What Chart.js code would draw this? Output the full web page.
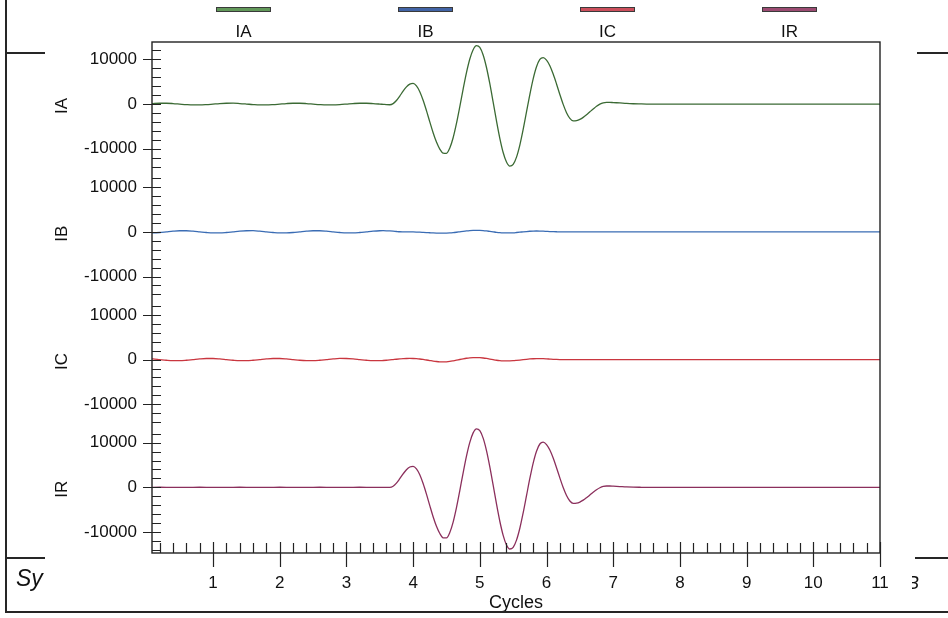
<!DOCTYPE html>
<html>
<head>
<meta charset="utf-8">
<title>IA IB IC IR</title>
<script src="https://cdn.jsdelivr.net/npm/chart.js@4.4.1/dist/chart.umd.min.js"></script>
<style>
  html, body { margin: 0; padding: 0; background: #fff; }
  body { font-family: "Liberation Sans", Arial, sans-serif; color: #111; }
  #page { position: relative; width: 948px; height: 618px; overflow: hidden; }
  #chartBox { position: absolute; left: 0; top: 0; width: 948px; height: 618px; }
  .rule { position: absolute; background: #262626; }
  .legend-item { position: absolute; top: 7px; width: 120px; margin-left: -60px; text-align: center; }
  .legend-item .swatch { display: block; margin: 0 auto; width: 53px; height: 3px; border: 1px solid #3a3a3a; }
  .legend-item .name { display: block; margin-top: 10px; font-size: 17px; line-height: 20px; }
  .clip { position: absolute; overflow: hidden; white-space: nowrap; font-style: italic; }
</style>
</head>
<body>
<div id="page">
  <div id="chartBox"><canvas id="waveChart"></canvas></div>
  <div id="legend"></div>

  <!-- bits of the surrounding report page -->
  <div class="rule" style="left:5px;top:0;width:2px;height:612px"></div>
  <div class="rule" style="left:5px;top:611px;width:943px;height:2px"></div>
  <div class="rule" style="left:7px;top:52px;width:38px;height:1.5px"></div>
  <div class="rule" style="left:917px;top:52px;width:31px;height:1.5px"></div>
  <div class="rule" style="left:7px;top:557px;width:38px;height:1.5px"></div>
  <div class="rule" style="left:915px;top:557px;width:33px;height:1.5px"></div>
  <div class="clip" style="left:16px;top:563px;width:29px;height:30px;font-size:23px;line-height:30px">Sy</div>
  <div class="clip" style="left:912px;top:572px;width:9px;height:22px;font-size:18px;line-height:22px"><span style="margin-left:-5px">B</span></div>
</div>

<script>
// x positions in cycles
const cycles = [
  0.08, 0.1, 0.2, 0.3, 0.4, 0.5, 0.6, 0.7, 0.8, 0.9,
  1.0, 1.1, 1.2, 1.3, 1.4, 1.5, 1.6, 1.7, 1.8, 1.9,
  2.0, 2.1, 2.2, 2.3, 2.4, 2.5, 2.6, 2.7, 2.8, 2.9,
  3.0, 3.1, 3.2, 3.3, 3.4, 3.5,
  3.55, 3.6, 3.65, 3.7, 3.75, 3.8, 3.85, 3.9, 3.95, 4.0,
  4.05, 4.1, 4.15, 4.2, 4.25, 4.3, 4.35, 4.4, 4.45, 4.5,
  4.55, 4.6, 4.65, 4.7, 4.75, 4.8, 4.85, 4.9, 4.95, 5.0,
  5.05, 5.1, 5.15, 5.2, 5.25, 5.3, 5.35, 5.4, 5.45, 5.5,
  5.55, 5.6, 5.65, 5.7, 5.75, 5.8, 5.85, 5.9, 5.95, 6.0,
  6.05, 6.1, 6.15, 6.2, 6.25, 6.3, 6.35, 6.4, 6.45, 6.5,
  6.55, 6.6, 6.65, 6.7, 6.75, 6.8, 6.85, 6.9, 6.95, 7.0,
  7.1, 7.2, 7.3, 7.4, 7.5, 8, 8.5, 9, 9.5, 10, 10.5, 11
];

const iaValues = [
  100, 120, 190, 190, 120, 0, -120, -190, -190, -120,
  0, 120, 190, 200, 120, 10, -110, -190, -190, -120,
  0, 120, 190, 190, 120, 0, -120, -190, -180, -110,
  0, 120, 190, 190, 110, 0,
  -60, -120, -150, 100, 800, 1800, 2900, 3850, 4480, 4640,
  4080, 2780, 860, -1460, -3970, -6400, -8500, -10070, -10990, -11030,
  -9840, -7540, -4330, -570, 3370, 7060, 10100, 12180, 13080, 12680,
  10990, 8190, 4560, 430, -3780, -7660, -10840, -12980, -13900, -13520,
  -11870, -9170, -5670, -1770, 2140, 5640, 8340, 9990, 10390, 9840,
  8580, 6720, 4510, 2140, -70, -1930, -3190, -3740, -3680, -3420,
  -2970, -2390, -1740, -1090, -480, -10, 290, 400, 390, 340,
  250, 150, 80, 40, 10, 0, 0, 0, 0, 0, 0, 0
];

const ibValues = [
  -245, -240, -150, 0, 150, 240, 240, 150, 0, -150,
  -240, -240, -150, 0, 150, 240, 250, 150, 0, -150,
  -240, -230, -150, 0, 150, 240, 240, 150, 0, -150,
  -240, -240, -150, 0, 150, 240,
  250, 238, 200, 150, 80, 20, 0, -10, -20, -30,
  -50, -80, -120, -160, -200, -240, -270, -290, -300, -290,
  -250, -180, -90, 10, 110, 200, 270, 320, 340, 330,
  280, 200, 100, 0, -100, -180, -230, -250, -240, -210,
  -150, -80, 0, 70, 130, 170, 190, 180, 150, 110,
  70, 40, 15, 0, 0, 0, 0, 0, 0, 0,
  0, 0, 0, 0, 0, 0, 0, 0, 0, 0,
  0, 0, 0, 0, 0, 0, 0, 0, 0, 0, 0, 0
];

const icValues = [
  170, 150, 0, -150, -240, -240, -150, 0, 150, 240,
  240, 150, 0, -150, -240, -240, -150, 0, 150, 240,
  240, 150, 0, -150, -230, -240, -150, 0, 150, 250,
  240, 150, 0, -150, -240, -240,
  -200, -150, -80, 0, 80, 150, 200, 240, 250, 240,
  200, 130, 30, -90, -210, -330, -430, -500, -520, -500,
  -420, -290, -140, 20, 170, 300, 390, 440, 450, 430,
  360, 250, 120, -20, -150, -240, -290, -300, -290, -250,
  -180, -100, -10, 70, 140, 190, 220, 225, 210, 170,
  120, 70, 30, 10, 0, 0, 0, 0, 0, 0,
  0, 0, 0, 0, 0, 0, 0, 0, 0, 0,
  0, 0, 0, 0, 0, 0, 0, 0, 0, 0, 0, 0
];

const irValues = [
  0, 10, 20, 10, -10, -20, -10, 10, 20, 10,
  -10, -20, -10, 10, 20, 10, -10, -20, -10, 10,
  20, 10, -10, -20, -10, 10, 20, 10, -10, -20,
  -10, 10, 20, 10, -10, 0,
  0, 10, 0, 250, 940, 1930, 3010, 3950, 4560, 4700,
  4130, 2810, 840, -1530, -4100, -6580, -8730, -10330, -11300, -11330,
  -10110, -7780, -4540, -720, 3260, 7000, 10080, 12190, 13100, 12700,
  11020, 8230, 4600, 490, -3720, -7590, -10750, -12900, -13810, -13430,
  -11820, -9160, -5710, -1870, 1980, 5430, 8090, 9700, 10100, 9570,
  8340, 6550, 4400, 2110, -40, -1830, -3060, -3590, -3540, -3290,
  -2870, -2320, -1710, -1100, -530, -90, 200, 300, 300, 260,
  180, 100, 50, 20, 0, 0, 0, 0, 0, 0, 0, 0
];

const seriesNames = ["IA", "IB", "IC", "IR"];
const lineColors = ["#3b6a34", "#3a6cb4", "#c9363f", "#8b2f5c"];
const swatchColors = ["#62995a", "#4264a6", "#cc4f5c", "#9c4b72"];

const xTickValues = [1, 2, 3, 4, 5, 6, 7, 8, 9, 10, 11];
const yTickValues = [-14000, -12000, -10000, -8000, -6000, -4000, -2000, 0,
                     2000, 4000, 6000, 8000, 10000, 12000];
const yLabelValues = [-10000, 0, 10000];
const xMin = 0.085, xMax = 11;
const panelMin = -14700, panelMax = 13900;

Chart.defaults.font.family = '"Liberation Sans", Arial, sans-serif';
Chart.defaults.font.size = 17;
Chart.defaults.color = "#111";

// html legend: swatch on top, name below
const legendEl = document.getElementById("legend");
seriesNames.forEach((name, i) => {
  const item = document.createElement("div");
  item.className = "legend-item";
  item.style.left = (243.5 + i * 182) + "px";
  item.innerHTML = `<span class="swatch" style="background:${swatchColors[i]}"></span><span class="name">${name}</span>`;
  legendEl.appendChild(item);
});

// one y scale per panel, stacked; the last one declared sits on top
const panelIds = ["yIR", "yIC", "yIB", "yIA"];

function panelScale(title) {
  return {
    type: "linear",
    position: "left",
    stack: "panels",
    stackWeight: 1,
    min: panelMin,
    max: panelMax,
    border: { display: false },
    grid: { display: false, drawTicks: false },
    afterFit: (s) => { s.width = 104; },
    afterBuildTicks: (s) => { s.ticks = yTickValues.map(v => ({ value: v })); },
    ticks: {
      autoSkip: false,
      padding: 15,
      callback: (v) => yLabelValues.includes(v) ? String(v) : ""
    },
    title: { display: true, text: title, padding: { top: 4, bottom: 0 } }
  };
}

const scales = {
  x: {
    type: "linear",
    position: "bottom",
    min: xMin,
    max: xMax,
    border: { display: false },
    grid: { display: false, drawTicks: false },
    afterFit: (s) => { s.height = 65; },
    afterBuildTicks: (s) => { s.ticks = xTickValues.map(v => ({ value: v })); },
    ticks: { autoSkip: false, maxRotation: 0, padding: 20, callback: (v) => String(v) },
    title: { display: true, text: "Cycles", font: { size: 18 }, padding: { top: 0, bottom: 4 } }
  }
};
panelIds.forEach(id => { scales[id] = panelScale(id.slice(1)); });

const seriesValues = [iaValues, ibValues, icValues, irValues];
const datasets = seriesNames.map((name, i) => ({
  label: name,
  yAxisID: "y" + name,
  data: cycles.map((c, k) => ({ x: c, y: seriesValues[i][k] })),
  borderColor: lineColors[i],
  borderWidth: 1.3,
  pointRadius: 0,
  fill: false,
  cubicInterpolationMode: "monotone"
}));

// plot frame plus the short tick marks (inside minors, crossing majors)
const frameTicks = {
  id: "frameTicks",
  afterDraw(chart) {
    const { ctx, chartArea: a } = chart;
    ctx.save();
    ctx.strokeStyle = "#222";
    ctx.lineWidth = 1.4;
    ctx.strokeRect(a.left, a.top, a.right - a.left, a.bottom - a.top);

    ctx.lineWidth = 1.2;
    ctx.beginPath();
    panelIds.forEach(id => {
      const s = chart.scales[id];
      yTickValues.forEach(v => {
        const y = Math.round(s.getPixelForValue(v)) + 0.5;
        const major = yLabelValues.includes(v);
        ctx.moveTo(a.left - (major ? 9 : 0), y);
        ctx.lineTo(a.left + 9, y);
      });
    });
    const sx = chart.scales.x;
    for (let i = 1; i <= 55; i++) {
      const x = Math.round(sx.getPixelForValue(i / 5)) + 0.5;
      const major = i % 5 === 0;
      ctx.moveTo(x, a.bottom - (major ? 11 : 10));
      ctx.lineTo(x, a.bottom + (major ? 14 : 0));
    }
    ctx.stroke();
    ctx.restore();
  }
};

new Chart(document.getElementById("waveChart"), {
  type: "line",
  data: { datasets },
  options: {
    responsive: true,
    maintainAspectRatio: false,
    animation: false,
    events: [],
    layout: { padding: { left: 48, top: 42, right: 68, bottom: 0 } },
    plugins: { legend: { display: false }, tooltip: { enabled: false } },
    scales
  },
  plugins: [frameTicks]
});
</script>
</body>
</html>
